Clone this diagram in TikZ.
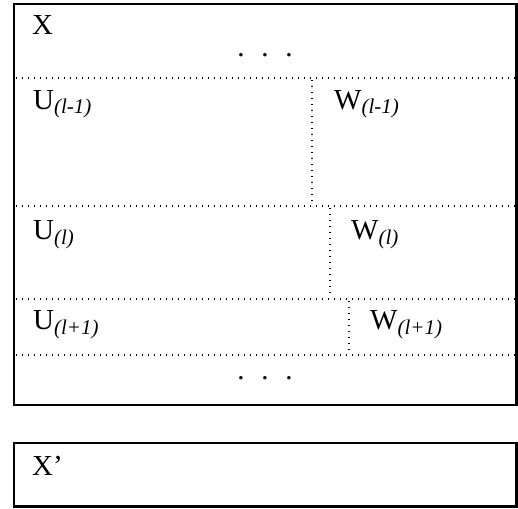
\documentclass[tikz,border=0pt]{standalone}
\usepackage{fontspec}
\setmainfont{Liberation Serif}
\usepackage{tikz}
\usetikzlibrary{positioning}
\tikzset{
	frame/.style   ={draw=black, line width=2.2pt},
	sepline/.style ={draw=black, line width=1.1pt, dash pattern=on 0.9pt off 5.1pt},
	lbl/.style     ={anchor=base west, inner sep=0pt, font=\fontsize{29}{34}\selectfont},
	ellip/.style   ={anchor=base, inner sep=0pt, font=\fontsize{29}{34}\selectfont},
}
\newcommand{\lsub}[2]{#1\raisebox{-5pt}{\fontsize{21}{24}\selectfont\itshape (#2)}}
\begin{document}
\begin{tikzpicture}[x=1pt, y=-1pt]
	\useasboundingbox (0,0) rectangle (518,508);
	% outer block X and block X'
	\draw[frame] (14,4) rectangle (516.5,405);
	\draw[frame] (14,443) rectangle (516.5,506.5);
	% horizontal separators
	\draw[sepline] (16,78) -- (515,78);
	\draw[sepline] (16,206) -- (515,206);
	\draw[sepline] (16,299) -- (515,299);
	\draw[sepline] (16,355) -- (515,355);
	% vertical separators
	\draw[sepline] (312,80) -- (312,205);
	\draw[sepline] (330,208) -- (330,298);
	\draw[sepline] (349,301) -- (349,354);
	% labels
	\node[lbl] (x) at (32,35) {X};
	\node[ellip] (dtop) at (265,57) {.\hspace{16.7pt}.\hspace{16.7pt}.};
	\node[lbl] (u1) at (33,109) {\lsub{U}{l-1}};
	\node[lbl] (w1) at (334,109) {\lsub{W}{l-1}};
	\node[lbl] (u2) at (33,239) {\lsub{U}{l}};
	\node[lbl] (w2) at (351,239) {\lsub{W}{l}};
	\node[lbl] (u3) at (33,329) {\lsub{U}{l+1}};
	\node[lbl] (w3) at (370,329) {\lsub{W}{l+1}};
	\node[ellip] (dbot) at (265,379) {.\hspace{16.7pt}.\hspace{16.7pt}.};
	\node[lbl] (xp) at (32,475) {X’};
\end{tikzpicture}
\end{document}
